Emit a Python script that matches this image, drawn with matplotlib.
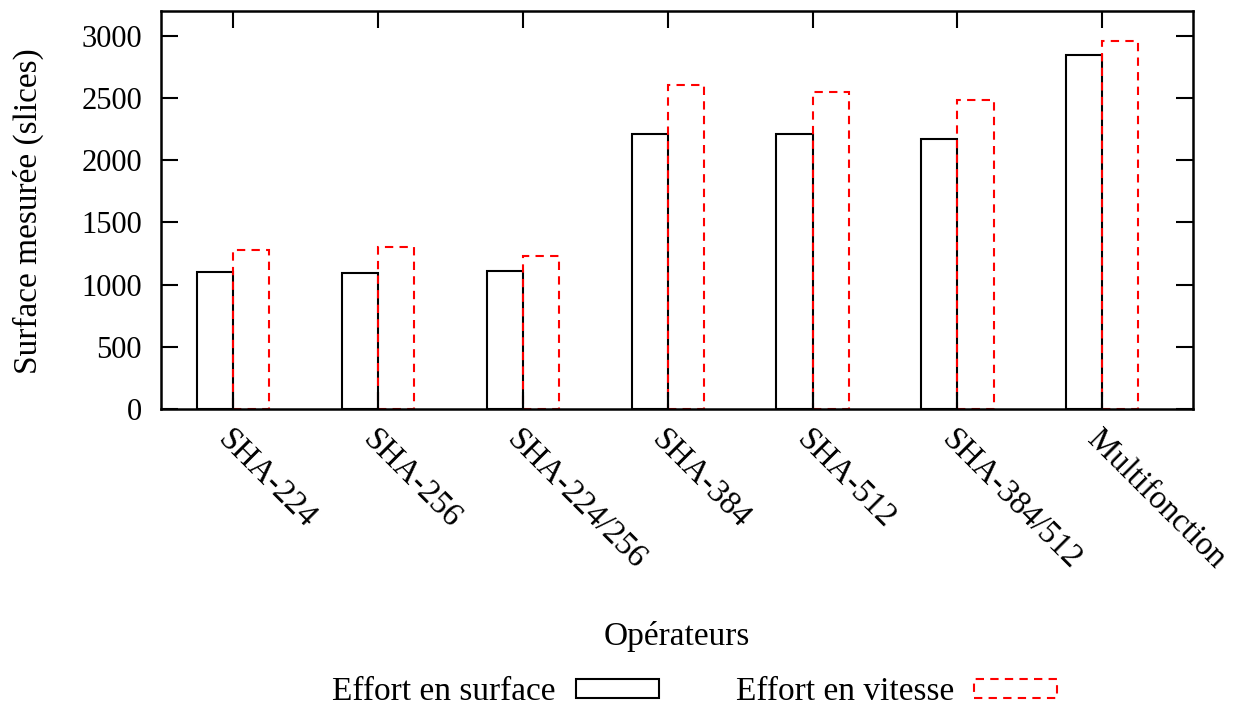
import matplotlib

matplotlib.use("Agg")

import matplotlib.pyplot as plt
import numpy as np

plt.rcParams["font.family"] = ["Liberation Serif", "DejaVu Serif"]

operateurs = [
    "SHA-224",
    "SHA-256",
    "SHA-224/256",
    "SHA-384",
    "SHA-512",
    "SHA-384/512",
    "Multifonction",
]
effort_surface = [1102, 1097, 1110, 2207, 2207, 2169, 2850]
effort_vitesse = [1277, 1306, 1231, 2606, 2545, 2485, 2955]
y_ticks = [0, 500, 1000, 1500, 2000, 2500, 3000]

x = np.arange(len(operateurs))
largeur = 0.25

fig = plt.figure(figsize=(12.47, 7.08), dpi=100)
ax = fig.add_axes([0.129, 0.4223, 0.828, 0.5622])

ax.bar(
    x, effort_surface, -largeur, align="edge",
    facecolor="none", edgecolor="black", linewidth=1.5,
    label="Effort en surface",
)
ax.bar(
    x, effort_vitesse, largeur, align="edge",
    facecolor="none", edgecolor="red", linewidth=1.5,
    linestyle=(0, (4, 3)), label="Effort en vitesse",
)

ax.set_xlim(-0.5, 6.63)
ax.set_ylim(0, 3200)
ax.set_yticks(y_ticks)
ax.set_yticklabels([str(v) for v in y_ticks], fontsize=22)
ax.set_xticks(x)
ax.set_xticklabels(
    operateurs, fontsize=23.5, rotation=-45,
    ha="left", va="top", rotation_mode="anchor",
)

ax.tick_params(
    axis="both", direction="in", length=12, width=1.5,
    top=True, right=True, colors="black",
)
ax.tick_params(axis="x", pad=11)
ax.tick_params(axis="y", pad=13.5)
for s in ax.spines.values():
    s.set_linewidth(1.8)

# titres des axes places a la main, comme dans l'original gnuplot
fig.text(28 / 1247, 1 - 211 / 708, "Surface mesurée (slices)", fontsize=24,
         rotation=90, ha="center", va="center")
fig.text(0.5427, 1 - 636 / 708, "Opérateurs", fontsize=24, ha="center", va="center")

ax.legend(
    loc="center",
    bbox_to_anchor=(0.557, 0.0226),
    bbox_transform=fig.transFigure,
    ncol=2,
    frameon=False,
    fontsize=24,
    markerfirst=False,
    handlelength=2.5,
    handleheight=0.5,
    handletextpad=0.6,
    columnspacing=2.3,
)

fig.savefig("out.png", dpi=100)
